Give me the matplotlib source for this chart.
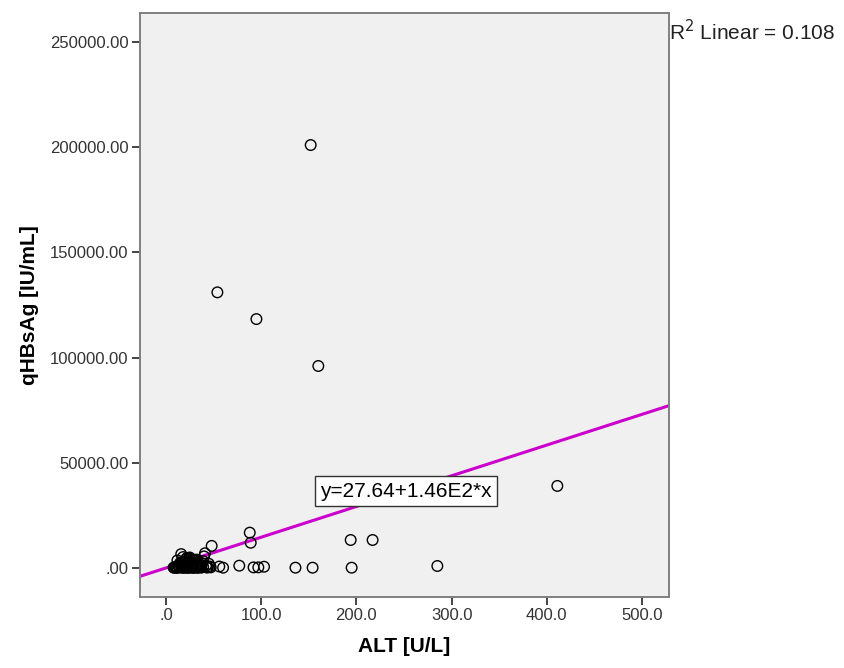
import numpy as np
import matplotlib.pyplot as plt

plt.rcParams['font.family'] = ['Liberation Sans', 'DejaVu Sans']

# ALT [U/L] vs qHBsAg [IU/mL]
alt = [152, 54, 95, 160, 411,
       88, 89, 48, 16, 194, 217, 285, 195, 154, 136,
       103, 97, 92, 77, 60, 56, 46, 41,
       8, 10, 12, 13, 14, 15, 16, 17, 18, 18, 19, 20, 21, 22, 22, 23,
       24, 25, 26, 27, 28, 29, 30, 31, 32, 33, 34, 35, 36, 38, 39,
       40, 42, 44, 45, 47, 9, 11, 14, 17, 20, 23, 26, 29, 33, 37, 43,
       12, 15, 19, 21, 24, 27, 30, 34, 36, 39, 25, 28, 31, 18, 22]
hbsag = [201000, 131000, 118300, 96000, 39000,
         16800, 12000, 10500, 6600, 13300, 13300, 950, 150, 150, 150,
         600, 300, 300, 1100, 150, 700, 700, 7000,
         200, 500, 300, 1200, 800, 2500, 400, 1500, 3000, 100, 900, 2000, 4200, 600, 1800, 300,
         2800, 1000, 3500, 500, 1500, 200, 2500, 900, 4000, 1200, 300, 1800, 700, 2200, 500,
         5500, 1000, 400, 2000, 300, 100, 50, 150, 250, 100, 50, 120, 80, 60, 150, 200,
         3600, 1900, 2600, 3200, 4600, 2300, 3800, 2700, 1400, 3300, 5000, 3900, 1700, 5200, 4800]

# linear fit reported in the plot
intercept = 27.64
slope = 1.46e2
r2 = 0.108

fig = plt.figure(figsize=(8.45, 6.68), dpi=100)
ax = fig.add_axes([0.1653, 0.1063, 0.6261, 0.8747])
ax.set_facecolor('#f0f0f0')

ax.scatter(alt, hbsag, s=58, facecolors='none', edgecolors='black', linewidths=1.0, zorder=3)

xlim = (-27.6, 528)
xs = np.array(xlim)
ax.plot(xs, intercept + slope * xs, color='#cc00cc', lw=2.2, zorder=2)

ax.set_xlim(*xlim)
ax.set_ylim(-13780, 263900)

ax.set_xticks([0, 100, 200, 300, 400, 500])
ax.set_xticklabels(['.0', '100.0', '200.0', '300.0', '400.0', '500.0'])
ax.set_yticks([0, 50000, 100000, 150000, 200000, 250000])
ax.set_yticklabels(['.00', '50000.00', '100000.00', '150000.00', '200000.00', '250000.00'])

for sp in ax.spines.values():
    sp.set_color('#7f7f7f')
    sp.set_linewidth(1.4)
ax.tick_params(direction='out', length=6, width=1.4, color='#444444',
               labelsize=12, labelcolor='#333333', pad=2)

ax.set_xlabel('ALT [U/L]', fontsize=15, fontweight='bold', labelpad=10)
ax.set_ylabel('qHBsAg [IU/mL]', fontsize=15, fontweight='bold', labelpad=8)

ax.text(252, 36500, 'y=27.64+1.46E2*x', fontsize=15, ha='center', va='center',
        bbox=dict(boxstyle='square,pad=0.25', facecolor='white', edgecolor='#333333', lw=1.0),
        zorder=4)

fig.text(0.792, 0.953, r'R$^2$ Linear = ' + f'{r2:.3f}', fontsize=15, ha='left', va='center',
         color='#222222')

plt.savefig('out.png', dpi=100)
